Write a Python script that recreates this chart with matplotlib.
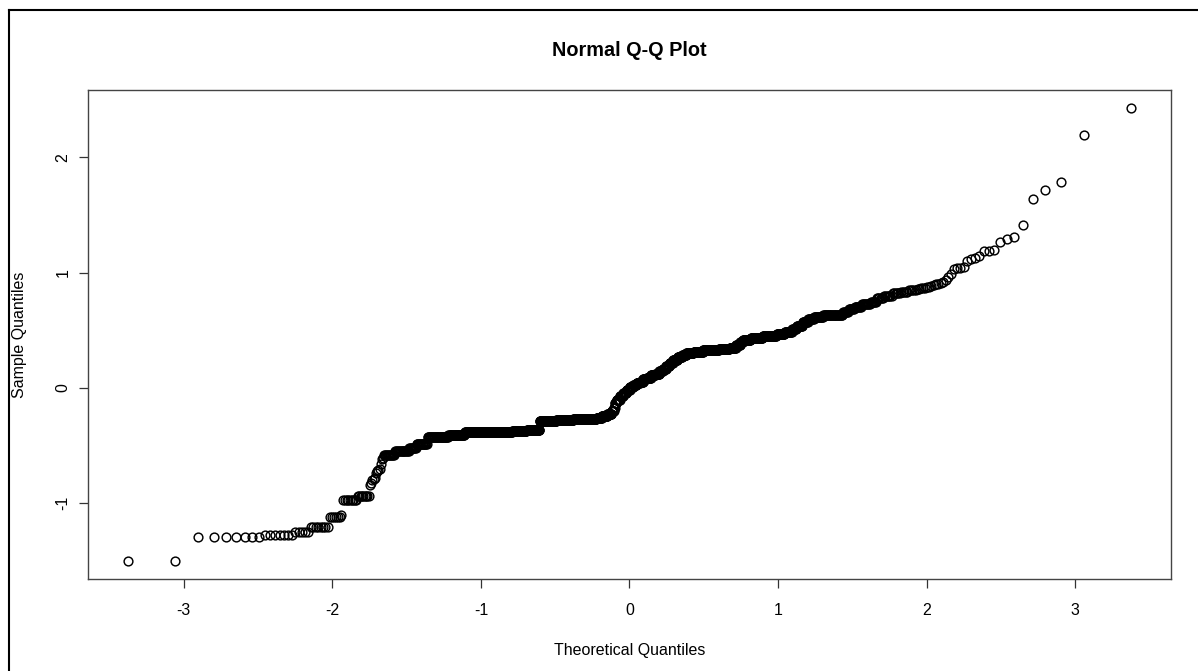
import numpy as np
import matplotlib
matplotlib.use("Agg")
import matplotlib.pyplot as plt
from matplotlib.lines import Line2D
from statistics import NormalDist

plt.rcParams['font.family'] = ['Liberation Sans', 'DejaVu Sans']
plt.rcParams['axes.unicode_minus'] = False

# sorted sample, stored as distinct values and how many times each occurs
sample_values = [
    -1.50, -1.29, -1.275, -1.25, -1.205, -1.12, -1.10, -0.97, -0.935,
    -0.84, -0.82, -0.80, -0.79, -0.78, -0.74, -0.72, -0.71, -0.70, -0.66, -0.62, -0.61,
    -0.58, -0.55, -0.52, -0.49, -0.425, -0.41, -0.38, -0.375, -0.365,
    -0.29, -0.28, -0.27, -0.26, -0.245, -0.23, -0.20, -0.17, -0.13,
    -0.10, -0.07, -0.04, -0.015, 0.005, 0.025, 0.04, 0.055, 0.075,
    0.09, 0.11, 0.125, 0.145, 0.165, 0.19, 0.215, 0.24, 0.265, 0.29,
    0.30, 0.31, 0.33, 0.34, 0.35, 0.37, 0.395, 0.42, 0.43, 0.45,
    0.47, 0.49, 0.51, 0.54, 0.57, 0.60, 0.62, 0.635, 0.66, 0.685,
    0.70, 0.725, 0.75, 0.78, 0.80, 0.82, 0.835, 0.85,
    0.86, 0.865, 0.87, 0.875, 0.88, 0.885, 0.89, 0.90, 0.905, 0.91,
    0.92, 0.94, 0.96, 0.99, 1.03, 1.04, 1.045, 1.05, 1.10, 1.12, 1.13, 1.145,
    1.19, 1.196, 1.27, 1.29, 1.307, 1.415, 1.642, 1.72, 1.784, 2.195, 2.428,
]
sample_counts = [
    2, 7, 7, 5, 8, 6, 1, 9, 9,
    1, 1, 1, 1, 1, 1, 1, 1, 1, 1, 1, 1,
    11, 16, 9, 15, 33, 30, 110, 40, 38,
    52, 56, 80, 19, 20, 15, 8, 4, 6,
    12, 12, 12, 12, 12, 12, 12, 12, 12,
    16, 16, 14, 13, 11, 12, 12, 16, 16, 14,
    24, 31, 49, 32, 18, 12, 7, 21, 30, 32,
    18, 15, 9, 11, 10, 10, 15, 28, 7, 7,
    8, 9, 6, 6, 7, 6, 5, 5,
    2, 1, 2, 1, 1, 1, 1, 1, 1, 1,
    1, 1, 1, 1, 1, 1, 1, 1, 1, 1, 1, 1,
    2, 1, 1, 1, 1, 1, 1, 1, 1, 1, 1,
]
x_ticks = [-3, -2, -1, 0, 1, 2, 3]
y_ticks = [-1, 0, 1, 2]

sample = np.repeat(sample_values, sample_counts)
n = len(sample)
# R's ppoints for n > 10
probs = (np.arange(1, n + 1) - 0.5) / n
theo = np.array([NormalDist().inv_cdf(p) for p in probs])

W, H = 1198, 671
fig = plt.figure(figsize=(W / 100, H / 100), dpi=100)
ax = fig.add_axes([88 / W, 1 - 579 / H, (1171 - 88) / W, (579 - 90) / H])

ax.plot(theo, sample, linestyle='none', marker='o', ms=6.3,
        mfc='none', mec='black', mew=1.05)


def r_range(v):
    lo, hi = np.min(v), np.max(v)
    d = (hi - lo) * 0.04
    return lo - d, hi + d


ax.set_xlim(*r_range(theo))
ax.set_ylim(*r_range(sample))
ax.set_xticks(x_ticks)
ax.set_yticks(y_ticks)
ax.tick_params(direction='out', length=6.5, width=0.9, color='#333333',
               labelsize=11.5, pad=10.5)
ax.tick_params(axis='y', pad=6)
for lab in ax.get_yticklabels():
    lab.set_rotation(90)
    lab.set_va('center')
for sp in ax.spines.values():
    sp.set_color('#444444')
    sp.set_linewidth(1.0)

fig.text(629.5 / W, 1 - 50 / H, 'Normal Q-Q Plot', ha='center', va='center',
         fontsize=14.3, fontweight='bold')
fig.text(629.5 / W, 1 - 650 / H, 'Theoretical Quantiles', ha='center',
         va='center', fontsize=11.5)
fig.text(20 / W, 1 - 334.5 / H, 'Sample Quantiles', ha='center',
         va='center', rotation=90, fontsize=11.5)

# outer frame of the screenshot (top and left edges only)
fig.add_artist(Line2D([8.5 / W, 1], [1 - 10 / H, 1 - 10 / H], color='black', lw=1.5))
fig.add_artist(Line2D([8.5 / W, 8.5 / W], [0, 1 - 10 / H], color='black', lw=1.5))

fig.savefig('out.png', dpi=100)
